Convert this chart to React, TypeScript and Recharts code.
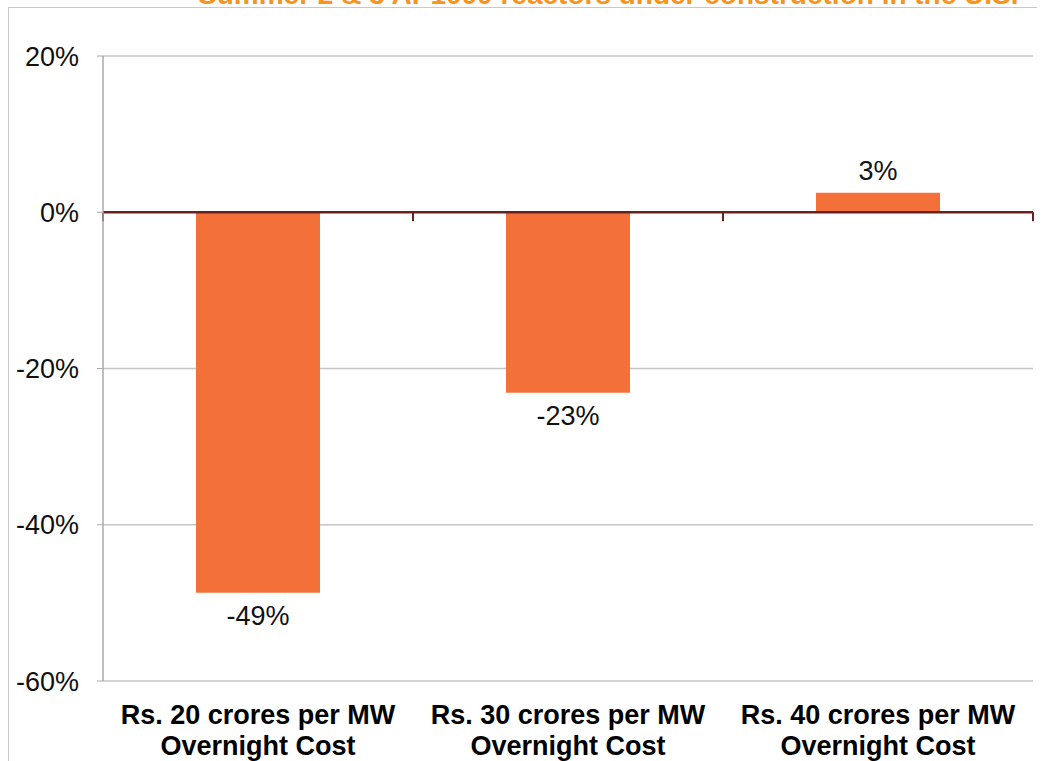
import { Bar, BarChart, CartesianGrid, LabelList, ReferenceLine, XAxis, YAxis } from "recharts";

const categories = ["Rs. 20 crores per MW|Overnight Cost", "Rs. 30 crores per MW|Overnight Cost", "Rs. 40 crores per MW|Overnight Cost"];
const changeValues = [-48.7, -23.1, 2.5];
const yTicks = [-60, -40, -20, 0, 20];
const titleText = "Summer 2 & 3 AP1000 reactors under construction in the U.S.";

const data = categories.map((name, i) => ({ name, change: changeValues[i] }));

const FONT = "'Liberation Sans', Arial, sans-serif";
const BAR_COLOR = "#f37138";
const ZERO_COLOR = "#6b2020";

function CategoryTick(props: any) {
  const { x, y, payload } = props;
  const lines = String(payload.value).split("|");
  return (
    <g transform={`translate(${x},${y})`}>
      {lines.map((line, i) => (
        <text key={i} x={0} y={35 + i * 31} textAnchor="middle" fontFamily={FONT} fontWeight="bold" fontSize={27} fill="#000">
          {line}
        </text>
      ))}
    </g>
  );
}

function ValueLabel(props: any) {
  const { x, y, width, height, value } = props;
  const top = Math.min(y, y + height);
  const bottom = Math.max(y, y + height);
  const cx = x + width / 2;
  const ty = value < 0 ? bottom + 32 : top - 13;
  return (
    <text x={cx} y={ty} textAnchor="middle" fontFamily={FONT} fontSize={27} fill="#111">
      {`${Math.round(value)}%`}
    </text>
  );
}

// zero line with small ticks dropping at category boundaries
function ZeroLine(props: any) {
  const { x1, y1, x2 } = props;
  const n = categories.length;
  const step = (x2 - x1) / n;
  const ticks = Array.from({ length: n + 1 }, (_, i) => x1 + i * step);
  return (
    <g>
      <line x1={x1} y1={y1} x2={x2} y2={y1} stroke={ZERO_COLOR} strokeWidth={2.5} />
      {ticks.map((tx, i) => (
        <line key={i} x1={tx} y1={y1} x2={tx} y2={y1 + 9} stroke={ZERO_COLOR} strokeWidth={2} />
      ))}
    </g>
  );
}

export default function App() {
  return (
    <div style={{ position: "absolute", top: 0, left: 0, width: 1042, height: 761, background: "#fff", overflow: "hidden" }}>
      <svg width={1042} height={8} style={{ position: "absolute", top: 0, left: 0 }}>
        <text x={198} y={4} fontFamily={FONT} fontWeight="bold" fontSize={28} fill="#f7941e">
          {titleText}
        </text>
      </svg>
      <div style={{ position: "absolute", top: 7, left: 8, width: 1029, height: 1, background: "#c8c8c8" }} />
      <div style={{ position: "absolute", top: 7, left: 8, width: 1, height: 754, background: "#c8c8c8" }} />
      <div style={{ position: "absolute", top: 0, left: 0 }}>
        <BarChart width={1042} height={761} data={data} margin={{ top: 56, right: 9, left: 0, bottom: 0 }} barCategoryGap="30%">
          <CartesianGrid horizontal vertical={false} stroke="#c4c4c4" strokeWidth={1.5} />
          <XAxis dataKey="name" axisLine={false} tickLine={false} tick={<CategoryTick />} interval={0} height={80} />
          <YAxis
            type="number"
            domain={[-60, 20]}
            ticks={yTicks}
            width={103}
            axisLine={{ stroke: "#a8a8a8", strokeWidth: 1.5 }}
            tickLine={{ stroke: "#a8a8a8" }}
            tickSize={6}
            tickMargin={18}
            tickFormatter={(v: number) => `${v}%`}
            tick={{ fontFamily: FONT, fontSize: 27, fill: "#111" }}
          />
          <Bar dataKey="change" fill={BAR_COLOR} isAnimationActive={false}>
            <LabelList dataKey="change" content={<ValueLabel />} />
          </Bar>
          <ReferenceLine y={0} shape={<ZeroLine />} ifOverflow="visible" />
        </BarChart>
      </div>
    </div>
  );
}
